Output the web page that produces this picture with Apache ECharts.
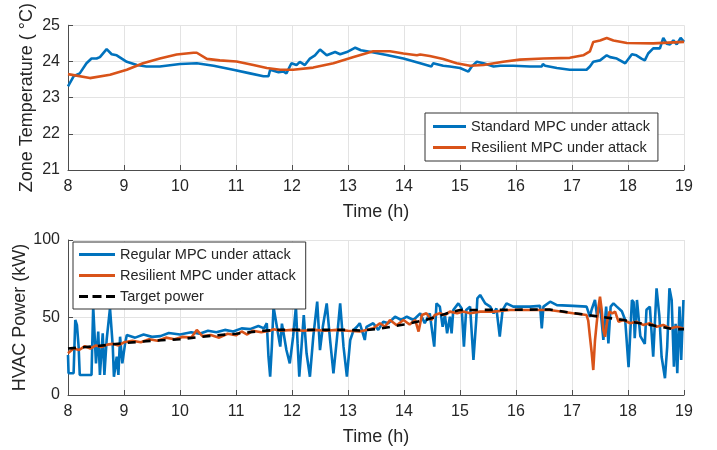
<!DOCTYPE html>
<html>
<head>
<meta charset="utf-8">
<script src="https://cdn.jsdelivr.net/npm/echarts@6/dist/echarts.min.js"></script>
<style>
html,body{margin:0;padding:0;background:#fff;}
#chart{width:717px;height:450px;}
</style>
</head>
<body>
<div id="chart"></div>
<script>
// ---- Top panel: zone temperature ----
var stdTempHours = [8.0,8.1,8.21,8.33,8.42,8.51,8.57,8.69,8.78,8.87,8.96,9.05,9.23,9.4,9.64,10.0,10.3,10.6,10.95,11.25,11.49,11.58,11.61,11.76,11.85,11.9,11.99,12.08,12.14,12.23,12.32,12.41,12.5,12.62,12.77,12.86,12.98,13.13,13.23,13.39,13.69,13.99,14.29,14.49,14.52,14.7,14.82,14.85,15.0,15.15,15.21,15.3,15.42,15.6,15.72,15.95,16.25,16.46,16.48,16.52,16.73,16.96,17.26,17.32,17.38,17.5,17.62,17.68,17.8,17.95,18.07,18.15,18.24,18.3,18.36,18.45,18.57,18.63,18.69,18.75,18.81,18.87,18.94,19.0];
var stdTempValues = [23.31,23.59,23.67,23.95,24.08,24.08,24.12,24.34,24.2,24.17,24.08,23.99,23.9,23.86,23.86,23.93,23.95,23.88,23.77,23.67,23.59,23.59,23.77,23.7,23.72,23.67,23.95,23.9,23.99,23.9,24.08,24.17,24.33,24.17,24.26,24.2,24.26,24.38,24.31,24.27,24.18,24.08,23.95,23.86,23.95,23.88,23.86,23.82,23.82,23.72,23.86,23.99,23.95,23.86,23.88,23.88,23.86,23.86,23.93,23.88,23.82,23.77,23.77,23.86,23.99,24.03,24.17,24.12,24.08,23.95,24.2,24.17,24.08,24.03,24.22,24.36,24.36,24.65,24.49,24.47,24.58,24.47,24.65,24.54];
var resTempHours = [8.0,8.39,8.75,9.05,9.34,9.64,9.94,10.24,10.3,10.48,10.71,11.01,11.31,11.55,11.79,12.02,12.38,12.74,13.1,13.45,13.75,13.99,14.23,14.29,14.46,14.7,14.94,15.18,15.42,15.77,16.07,16.49,16.96,17.2,17.32,17.38,17.5,17.62,17.74,17.98,18.45,19.0];
var resTempValues = [23.65,23.54,23.63,23.77,23.95,24.08,24.19,24.24,24.24,24.07,24.03,24.0,23.9,23.82,23.77,23.77,23.83,23.95,24.12,24.28,24.28,24.22,24.17,24.19,24.15,24.07,23.95,23.88,23.9,23.99,24.05,24.08,24.1,24.17,24.28,24.54,24.58,24.65,24.58,24.51,24.5,24.54];

// ---- Bottom panel: HVAC power ----
var regPowerHours = [8.0,8.01,8.1,8.13,8.16,8.19,8.21,8.42,8.45,8.5,8.54,8.57,8.62,8.65,8.69,8.75,8.8,8.82,8.87,8.9,8.93,8.97,9.02,9.05,9.2,9.35,9.5,9.65,9.8,10.0,10.2,10.35,10.5,10.65,10.8,10.95,11.1,11.25,11.4,11.5,11.55,11.58,11.61,11.64,11.67,11.73,11.79,11.82,11.85,11.9,11.96,12.02,12.07,12.1,12.13,12.17,12.21,12.26,12.32,12.38,12.45,12.5,12.55,12.62,12.68,12.74,12.8,12.86,12.92,12.98,13.04,13.1,13.16,13.21,13.3,13.33,13.45,13.54,13.63,13.72,13.84,13.95,14.05,14.17,14.29,14.37,14.46,14.54,14.58,14.64,14.69,14.73,14.77,14.82,14.85,14.88,14.97,15.03,15.07,15.11,15.18,15.24,15.29,15.31,15.36,15.45,15.54,15.6,15.65,15.71,15.76,15.83,15.95,16.25,16.43,16.46,16.49,16.61,16.73,17.02,17.26,17.32,17.35,17.41,17.45,17.5,17.56,17.61,17.65,17.69,17.74,17.8,17.89,17.95,18.01,18.07,18.1,18.12,18.16,18.22,18.3,18.33,18.39,18.45,18.51,18.56,18.6,18.66,18.7,18.74,18.78,18.82,18.85,18.88,18.92,18.95,18.99];
var regPowerValues = [25.8,14,14,48.4,45,31,12.9,12.9,57,20.4,40.9,12.9,39.8,12.9,35.5,56,31,11.8,24.7,12.9,37.6,20.4,33.3,38.7,37,39,37.5,38,40,39,40.5,39.5,41.5,40.5,42,41,43,42.5,44.5,43,46.3,24.7,11.8,31.2,57,44,31.2,46,39.8,29,20.4,37.6,57,33.3,11.8,31.2,51.6,26.9,11.8,37.6,60.2,29,44,59.1,35.5,14,35.5,59.1,31.2,11.8,35.5,41.9,44,46.3,35.5,44,46.3,42,47.3,46.3,50.5,48.4,50.5,48.4,52.7,46.3,52.7,31.2,59.1,57,44,51.6,39.8,50.5,39.8,54.8,59.1,55.9,31.2,54.8,57,22.6,48.4,62.4,64.5,59.1,57,52.7,55.9,37.6,54.8,59.1,57,57,57.5,43,57,60.2,58,57.5,57,50.5,55,61.3,50.5,59,35.5,57,33.3,57,59.1,57,54,48.4,18,61.3,60,36.6,61.3,38,33,55,57,24.7,68.8,51,24.7,10.8,31,68.8,61.3,18.3,46,14,57,22.6,61.3];
var resPowerHours = [8.0,8.1,8.2,8.3,8.4,8.5,8.6,8.7,8.8,8.9,9.0,9.15,9.3,9.45,9.6,9.75,9.9,10.05,10.2,10.3,10.4,10.55,10.7,10.85,11.0,11.1,11.2,11.3,11.45,11.6,11.67,11.8,12.0,12.2,12.4,12.6,12.8,13.0,13.21,13.33,13.45,13.57,13.66,13.75,13.87,13.99,14.1,14.2,14.26,14.32,14.4,14.49,14.55,14.64,14.73,14.82,14.95,15.06,15.18,15.36,15.6,15.89,16.25,16.6,17.02,17.26,17.29,17.32,17.35,17.38,17.41,17.44,17.47,17.5,17.53,17.56,17.59,17.63,17.67,17.72,17.77,17.83,17.92,18.04,18.15,18.27,18.39,18.51,18.63,18.75,18.87,18.99];
var resPowerValues = [27,30,29,31.5,30,32,31,32.5,33,32,34,35,34,36,35,37,36,37.5,37,42,38,38.7,37,39.5,38.5,41,39,41.5,40.5,41.5,42.4,41.5,42,41.5,42,41.5,42,41.5,41,41.9,43,46.3,44,48.4,45,48.4,45.5,48.4,40.9,51.6,52.7,48.4,51.6,52.7,51.6,53.8,52.7,53.8,52.7,53.8,53.8,54.8,54.8,54.8,52.7,51.6,48,37.6,27.9,16.1,35,46,56,63.4,55,41.9,37.6,48,53.8,52.7,53.8,47.3,48.4,46.3,47.3,45.2,46.3,44,45.2,42.9,44,42.9];
var targetHours = [8.0,8.5,9.0,9.5,10.0,10.5,11.0,11.5,11.75,12.0,13.0,13.25,13.6,14.0,14.4,14.75,15.0,16.6,17.0,17.3,17.6,17.9,18.1,18.35,18.6,18.8,19.0];
var targetValues = [30,31.5,33.5,35,36,38,39.5,41.5,42,42,42,41.5,43,45.5,48.5,52.5,54.8,55.2,53,51.5,50,48.5,47,45.5,44,42.5,42.5];

var xTicks = [8,9,10,11,12,13,14,15,16,17,18,19];
var tempTicks = [21,22,23,24,25];
var powerTicks = [0,50,100];

function pairs(xs, ys){ return xs.map(function(x,i){ return [x, ys[i]]; }); }

var BLUE = '#0072BD', ORANGE = '#D95319';
var FONT = 'Liberation Sans, Arial, Helvetica, sans-serif';
var txt = '#262626';

function xAx(gi, gap){
  return {
    type:'value', gridIndex:gi, min:xTicks[0], max:xTicks[xTicks.length-1], interval:1,
    name:'Time (h)', nameLocation:'middle', nameGap:gap, nameMoveOverlap:false,
    nameTextStyle:{fontFamily:FONT, fontSize:18, color:txt},
    axisLine:{show:true, lineStyle:{color:'#4d4d4d', width:1}},
    axisTick:{show:true, inside:true, length:5, lineStyle:{color:'#4d4d4d'}},
    axisLabel:{fontFamily:FONT, fontSize:16, color:txt, margin:9},
    splitLine:{show:true, lineStyle:{color:'#e3e3e3', width:1}}
  };
}
function yAx(gi, mn, mx, iv, name, gap){
  return {
    type:'value', gridIndex:gi, min:mn, max:mx, interval:iv,
    name:name, nameLocation:'middle', nameGap:gap, nameRotate:90, nameMoveOverlap:false,
    nameTextStyle:{fontFamily:FONT, fontSize:18, color:txt},
    axisLine:{show:true, lineStyle:{color:'#4d4d4d', width:1}},
    axisTick:{show:true, inside:true, length:5, lineStyle:{color:'#4d4d4d'}},
    axisLabel:{fontFamily:FONT, fontSize:16, color:txt, margin:8},
    splitLine:{show:true, lineStyle:{color:'#e3e3e3', width:1}}
  };
}

var chart = echarts.init(document.getElementById('chart'), null, {renderer:'canvas'});
chart.setOption({
  animation:false,
  backgroundColor:'#ffffff',
  grid:[
    {left:68, right:33, top:23, height:147},
    {left:68, right:33, top:240, height:155}
  ],
  xAxis:[xAx(0,33), xAx(1,33)],
  yAxis:[
    yAx(0, tempTicks[0], tempTicks[tempTicks.length-1], 1, 'Zone Temperature ( \u00B0C)', 32),
    yAx(1, powerTicks[0], powerTicks[powerTicks.length-1], 50, 'HVAC Power (kW)', 39)
  ],
  legend:[
    {
      left:425, top:113, orient:'vertical', itemWidth:33, itemHeight:3, itemGap:6,
      padding:[6,8,6,8], borderColor:'#333', borderWidth:1, backgroundColor:'#fff',
      textStyle:{fontFamily:FONT, fontSize:14.5, color:txt},
      data:[{name:'Standard MPC under attack', icon:'rect'},{name:'Resilient MPC under attack', icon:'rect'}]
    },
    {
      left:73, top:242, orient:'vertical', itemWidth:36, itemHeight:3, itemGap:6,
      padding:[5,6,5,6], borderColor:'#333', borderWidth:1, backgroundColor:'#fff',
      textStyle:{fontFamily:FONT, fontSize:14.5, color:txt},
      data:[{name:'Regular MPC under attack', icon:'rect'},{name:'Resilient MPC under attack ', icon:'rect'},
            {name:'Target power', icon:'path://M0,0H9V3H0Z M13.5,0H22.5V3H13.5Z M27,0H36V3H27Z'}]
    }
  ],
  series:[
    {name:'Standard MPC under attack', type:'line', xAxisIndex:0, yAxisIndex:0, showSymbol:false,
     data:pairs(stdTempHours, stdTempValues), color:BLUE, lineStyle:{color:BLUE, width:2.6}},
    {name:'Resilient MPC under attack', type:'line', xAxisIndex:0, yAxisIndex:0, showSymbol:false,
     data:pairs(resTempHours, resTempValues), color:ORANGE, lineStyle:{color:ORANGE, width:2.6}},
    {name:'Regular MPC under attack', type:'line', xAxisIndex:1, yAxisIndex:1, showSymbol:false,
     data:pairs(regPowerHours, regPowerValues), color:BLUE, lineStyle:{color:BLUE, width:2.6}},
    {name:'Resilient MPC under attack ', type:'line', xAxisIndex:1, yAxisIndex:1, showSymbol:false,
     data:pairs(resPowerHours, resPowerValues), color:ORANGE, lineStyle:{color:ORANGE, width:2.6}},
    {name:'Target power', type:'line', xAxisIndex:1, yAxisIndex:1, showSymbol:false,
     data:pairs(targetHours, targetValues), color:'#000', lineStyle:{color:'#000', width:2.6, type:[8,7]}}
  ]
});
</script>
</body>
</html>
